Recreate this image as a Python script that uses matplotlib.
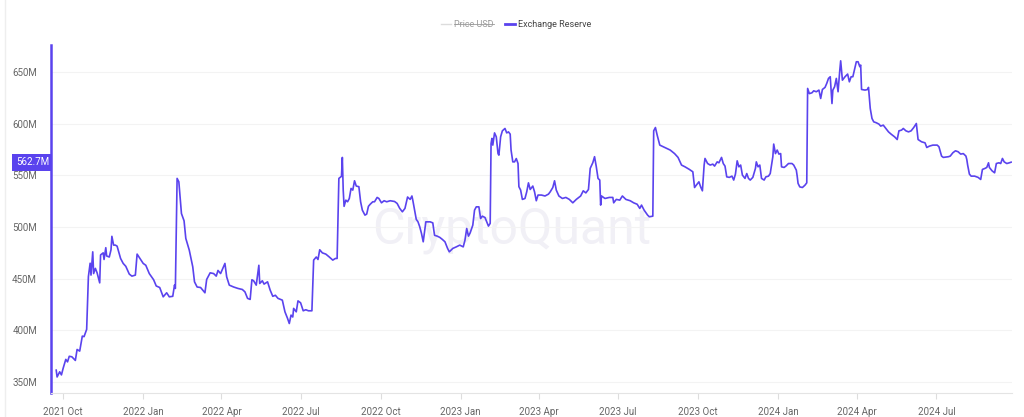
import pandas as pd
import matplotlib
matplotlib.use("Agg")
import matplotlib.pyplot as plt
import matplotlib.dates as mdates
from matplotlib import font_manager
from matplotlib.lines import Line2D
from matplotlib.ticker import FuncFormatter, MultipleLocator
from matplotlib.transforms import blended_transform_factory

# exchange reserve (days after start_date, millions)
start_date = "2021-09-23"
day_offsets = [
    0, 1, 4, 6, 8, 11, 13, 15, 18, 22, 24, 27, 30, 32, 35, 37, 39, 40, 42, 43,
    45, 47, 50, 51, 54, 55, 57, 58, 61, 63, 64, 66, 68, 70, 74, 77, 80, 84, 87, 91,
    93, 97, 100, 103, 107, 112, 115, 119, 123, 127, 130, 134, 136, 137, 139, 141,
    144, 147, 149, 153, 157, 159, 162, 166, 171, 173, 177, 181, 184, 186, 189, 191,
    194, 196, 199, 204, 209, 214, 217, 220, 223,
    225, 227, 230, 233, 234, 237, 239, 243, 246, 249, 252, 255, 260, 263, 266, 268,
    270, 272, 273, 276, 278, 281, 284, 287, 290, 294, 296, 299, 301, 303, 306, 310,
    314, 318, 321, 323, 325, 328, 329, 330, 331, 333, 335, 337, 339, 341, 343, 345,
    348, 350, 352, 355, 357, 359, 361, 364, 366, 369, 371, 374, 377, 380, 384, 389,
    392, 395, 398, 401, 404, 407, 409, 410, 414, 416, 418, 420, 422, 423, 425, 428,
    430, 433, 435, 438, 441, 444, 447, 450, 452,
    456, 460, 464, 468, 470, 472, 474, 476, 479, 481, 483, 486, 488, 490, 493, 495,
    497, 499, 500, 501, 502, 504, 506, 508, 509, 511, 513, 516, 518, 520, 522, 523,
    525, 527, 529, 531, 532, 534, 536, 539, 541, 543, 545, 548, 550, 552, 554, 558,
    562, 566, 568, 569, 571, 573, 575, 578, 582, 586, 590, 594, 598, 603, 606, 609,
    612, 614, 617, 619, 621, 623, 625, 626, 627, 631, 636, 640, 641, 644, 648, 651,
    655, 660, 664, 668, 671, 673, 676, 680, 682, 686, 687, 689, 691, 694, 698, 702, 706,
    711, 715, 719, 723, 728, 732, 734, 736, 739, 741, 743, 745, 746, 749, 752, 755,
    757, 760, 762, 765, 767, 769, 771, 774, 777, 779, 781, 783, 785, 787, 789, 792,
    794, 796, 798, 801, 804, 805, 807, 809, 811, 814, 816, 819, 821, 824, 825, 827,
    829, 831, 833, 834, 837, 839, 842, 846, 848, 851, 852, 853, 855, 858, 861, 863,
    864, 866, 869, 871, 874, 877, 879, 881, 884, 886, 888, 890,
    892, 893, 895, 897, 899, 901, 902, 904, 907, 910, 912, 914, 916, 920, 922, 924,
    925, 926, 930, 933, 934, 936, 938, 940, 943, 946, 948, 951, 954, 957, 960, 964,
    967, 969, 972, 974, 977, 980, 983, 986, 989, 991, 995, 999, 1001, 1004, 1008,
    1013, 1015, 1018, 1020, 1026, 1028, 1031, 1034, 1037, 1040, 1043, 1046, 1047,
    1048, 1050, 1052, 1056, 1060, 1063, 1065, 1068, 1070, 1072, 1073, 1076, 1079,
    1081, 1084, 1086, 1088, 1090, 1093, 1096, 1098,
]
reserve_m = [
    361.6, 355, 360, 357, 363.5, 372, 369.6, 375, 374.5, 371, 381.6, 380, 394.5, 394,
    401, 452, 465, 453.5, 476, 455, 460, 455.7, 446, 473, 475, 468.6, 480, 472, 471,
    478, 491, 482.5, 482.5, 481.5, 469.6, 464.8, 462, 454.5, 452.5, 453.5, 473.8,
    468.6, 464.8, 463, 455, 449, 443, 441.5, 432.5, 436.4, 432.5, 433, 443.8, 440.6,
    547, 543.7, 513, 506, 489, 477.6, 461.5, 447, 442, 441.5, 436.4, 449.3, 455.7,
    455, 452.5, 458, 455, 459, 464.8, 451.8, 443.8, 442, 440.6, 439.6, 437.3, 431, 430,
    449, 448, 443.8, 463, 445.4, 448, 444.8, 447, 439, 433, 434, 431, 429.3, 418,
    411.6, 406.7, 414.8, 413, 421.3, 418, 428.6, 426.7, 419, 420, 419, 419, 468, 471,
    468.6, 478, 475, 473.8, 471, 468, 469.6, 469.6, 547, 549, 567.3, 535.7, 520, 526,
    524.4, 527.6, 537.3, 535.7, 544.7, 539.6, 539, 524.4, 516.3, 511.5, 512.5, 520,
    522, 524.4, 524.4, 528.6, 527.6, 523.4, 525.4, 524.4, 525.4, 524.7, 522.8, 518,
    514.7, 518, 529, 526.7, 530, 526, 507.4, 505, 500.2, 493.8, 485.7, 492, 505, 505,
    505, 504, 492, 491.2, 490, 488, 485.7, 479.3, 476,
    479.3, 480.8, 482.5, 480.8, 487.3, 498.6, 491.2, 494.4, 501.8, 516.3, 519.5,
    519.5, 508.2, 510.5, 509.2, 505, 500.9, 503.5, 580.8, 585.7, 579.2, 591, 587.2,
    571, 569.5, 587.2, 593, 595.3, 591, 592, 589.8, 574.4, 563, 563, 566.2, 561.4,
    539, 535.7, 526.7, 527.6, 534, 542.7, 536.3, 539.6, 534, 525.4, 530.9, 530.9,
    530, 531.8, 534, 535.4, 538.2, 544.7, 535.7, 530, 527.6, 528.6, 526.7, 523.4,
    526.7, 530, 535, 533, 536.3, 556.7, 562.2, 568, 558.3, 547, 545.4, 521.2, 530,
    527.6, 528.6, 528.6, 523.4, 526.7, 526, 530, 526.7, 525.4, 523.4, 522, 518,
    521.2, 516.3, 511.5, 509.9, 510.5, 593, 596.2, 588.9, 579.2, 577.6, 576, 574.4,
    571, 567.3, 559.9, 558.2, 555.7, 553.4, 538.2, 540.5, 543.7, 538.8, 535, 559.9,
    566.3, 561.4, 559.9, 560.8, 558.9, 563, 562.1, 567.3, 561.4, 558.9, 548.5, 548,
    549.2, 545.4, 551.2, 564, 558.2, 559.9, 550.2, 547, 551.7, 547, 545.4, 548, 556.7,
    563, 558.2, 559.9, 547, 545.4, 548.5, 549.2, 551.7, 568, 580.2, 571, 574.4, 570.5,
    571, 558.2, 557.6, 558.9, 561.4, 561.4, 559.9, 555, 549.2, 542.2, 538.8, 538.2,
    540.5, 542.7, 634, 629, 629.8, 631.7, 630.8, 632.4, 624.3, 633, 635, 638.9, 643.7,
    645.3,
    619.4, 632.4, 635.6, 643.7, 630.8, 651.7, 660.7, 642, 645.3, 647.9, 640.4, 645.3,
    645.3, 659.8, 659.8, 655, 656.6, 633, 632.4, 633, 635, 614.7, 605, 601.7, 600.8,
    599.5, 597.6, 598.5, 595.3, 592, 589.8, 587.2, 584.6, 593, 593.7, 595.3, 593, 592,
    593, 596.2, 600.1, 584.6, 582.4, 581.4, 576.9, 578.2, 579.2, 579.2, 577.6, 568.6,
    567.3, 568, 568.6, 571.8, 573.7, 572.8, 570.5, 571, 568.6, 565.4, 559.9, 551.2,
    549.2, 549.2, 548, 546, 555.7, 556.7, 557.6, 562.1, 557.6, 554.4, 552.4, 561.4,
    562.1, 561.4, 566.3, 563, 561.4, 562.1, 562.7,
]
last_value = 562.7
legend_labels = ["Price USD", "Exchange Reserve"]

assert len(day_offsets) == len(reserve_m)
dates = pd.Timestamp(start_date) + pd.to_timedelta(day_offsets, unit="D")

# pick a narrow font if there is one
installed = {f.name for f in font_manager.fontManager.ttflist}
for fam in ["Liberation Sans Narrow", "DejaVu Sans Condensed", "Roboto", "DejaVu Sans"]:
    if fam in installed:
        plt.rcParams["font.family"] = [fam, "DejaVu Sans"]
        break

PURPLE = "#5a43ee"
TXT = "#666666"

fig = plt.figure(figsize=(10.24, 4.17), dpi=100)
ax = fig.add_axes([51 / 1024, 1 - 393 / 417, 961 / 1024, 348 / 417])

ax.plot(dates, reserve_m, color=PURPLE, lw=1.2, zorder=3)

ax.set_ylim(339.5, 676)
ax.set_xlim(pd.Timestamp("2021-09-17"), pd.Timestamp("2024-09-26"))

ax.yaxis.set_major_locator(MultipleLocator(50))
ax.yaxis.set_major_formatter(FuncFormatter(lambda v, p: f"{v:.0f}M"))
ax.xaxis.set_major_locator(mdates.MonthLocator(bymonth=[1, 4, 7, 10]))
ax.xaxis.set_major_formatter(mdates.DateFormatter("%Y %b"))

ax.grid(axis="y", color="#f3f3f3", lw=0.8)
ax.set_axisbelow(True)
ax.spines["top"].set_visible(False)
ax.spines["right"].set_visible(False)
ax.spines["left"].set_color(PURPLE)
ax.spines["left"].set_linewidth(1.8)
ax.spines["bottom"].set_color("#e4e4e4")
ax.tick_params(axis="y", length=0, pad=10, labelsize=7, labelcolor=TXT)
ax.tick_params(axis="x", length=4, width=0.8, color="#dddddd", pad=6,
               labelsize=7, labelcolor=TXT)

# watermark
ax.text(0.5, 0.448, "CryptoQuant", transform=fig.transFigure, ha="center",
        va="center", fontsize=36, color="#f1f0f6", zorder=0)

# current value tag on the y axis
tr = blended_transform_factory(ax.transAxes, ax.transData)
ax.text(-0.002, last_value, f"{last_value}M", transform=tr, ha="right",
        va="center", color="white", fontsize=7, zorder=5, clip_on=False,
        bbox=dict(boxstyle="square,pad=0.35", fc=PURPLE, ec="none"))

# legend at the top, price series switched off
handles = [Line2D([], [], color="#dcdcdc", lw=1),
           Line2D([], [], color=PURPLE, lw=2)]
leg = fig.legend(handles, legend_labels, loc="center", bbox_to_anchor=(0.504, 0.942),
                 ncol=2, frameon=False, fontsize=6.5, handlelength=1.1,
                 handletextpad=0.4, columnspacing=1.2)
leg.get_texts()[0].set_color("#9a9a9a")
leg.get_texts()[1].set_color("#444444")

# faint page border on the left
fig.add_artist(Line2D([0.005, 0.005], [0, 1], transform=fig.transFigure,
                      color="#eeeeee", lw=1))

fig.canvas.draw()
bb = leg.get_texts()[0].get_window_extent()
inv = fig.transFigure.inverted()
(x0, y0), (x1, y1) = inv.transform([(bb.x0, bb.y0), (bb.x1, bb.y1)])
ym = (y0 + y1) / 2
fig.add_artist(Line2D([x0, x1], [ym, ym], transform=fig.transFigure,
                      color="#9a9a9a", lw=0.6))

fig.savefig("out.png", dpi=100, facecolor="white")
